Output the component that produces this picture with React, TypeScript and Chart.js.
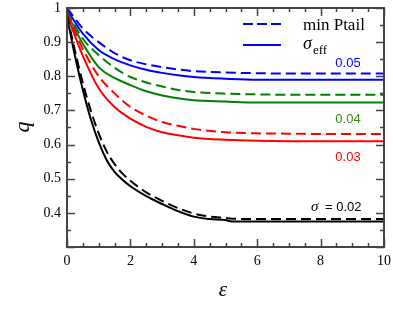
import React, { useEffect, useRef } from "react";
import { Chart, registerables } from "chart.js";

Chart.register(...registerables);

// ---- data ----
const epsFine = [0, 0.25, 0.5, 0.75, 1, 1.25, 1.5, 1.75, 2, 2.5, 3, 3.5, 4, 4.5, 5, 5.2, 6, 7, 8, 9, 10];
const blackSolid = [0.975, 0.86, 0.76, 0.675, 0.607, 0.555, 0.52, 0.497, 0.478, 0.449, 0.426, 0.405, 0.389, 0.382, 0.379, 0.375, 0.375, 0.375, 0.375, 0.375, 0.375];
const blackDashed = [0.98, 0.875, 0.78, 0.7, 0.633, 0.58, 0.543, 0.515, 0.494, 0.46, 0.435, 0.414, 0.398, 0.389, 0.385, 0.383, 0.382, 0.382, 0.382, 0.382, 0.382];

const epsCoarse = [0, 0.5, 1, 1.5, 2, 2.5, 3, 3.5, 4, 5, 6, 7, 8, 9, 10];
const redDashed = [0.985, 0.88, 0.8, 0.75, 0.71, 0.685, 0.666, 0.655, 0.646, 0.636, 0.633, 0.632, 0.631, 0.631, 0.631];
const redSolid = [0.98, 0.86, 0.765, 0.71, 0.676, 0.652, 0.636, 0.627, 0.62, 0.614, 0.611, 0.61, 0.61, 0.61, 0.61];
const greenDashed = [0.99, 0.91, 0.862, 0.825, 0.798, 0.782, 0.77, 0.76, 0.754, 0.749, 0.747, 0.746, 0.746, 0.746, 0.746];
const greenSolid = [0.985, 0.895, 0.827, 0.795, 0.774, 0.756, 0.744, 0.736, 0.73, 0.726, 0.723, 0.723, 0.723, 0.723, 0.723];
const blueDashed = [1.0, 0.94, 0.9, 0.868, 0.847, 0.835, 0.827, 0.82, 0.815, 0.811, 0.809, 0.808, 0.808, 0.808, 0.808];
const blueSolid = [0.995, 0.925, 0.877, 0.85, 0.832, 0.819, 0.81, 0.803, 0.798, 0.793, 0.79, 0.79, 0.79, 0.79, 0.79];

const xTicksMajor = [0, 2, 4, 6, 8, 10];
const sigmaLabels = ["0.05", "0.04", "0.03", "0.02"];

const BLUE = "#0000ff";
const GREEN = "#008000";
const RED = "#ff0000";
const BLACK = "#000000";
const SERIF = "'Liberation Serif', 'Times New Roman', serif";
const SANS = "'Liberation Sans', Arial, sans-serif";

function pts(xs: number[], ys: number[]) {
  return xs.map((x, i) => ({ x, y: ys[i] }));
}

function ds(xs: number[], ys: number[], color: string, dashed: boolean) {
  return {
    data: pts(xs, ys),
    borderColor: color,
    backgroundColor: color,
    borderWidth: 2,
    borderDash: dashed ? [10, 5] : [],
    pointRadius: 0,
    cubicInterpolationMode: "monotone" as const,
    fill: false,
  };
}

const framePlugin = {
  id: "frame",
  afterDraw(chart: any) {
    const ctx = chart.ctx as CanvasRenderingContext2D;
    const { left, right, top, bottom } = chart.chartArea;
    const xs = chart.scales.x;
    const ys = chart.scales.y;
    ctx.save();
    ctx.strokeStyle = "#444";
    ctx.lineWidth = 1.5;
    ctx.beginPath();
    for (let v = 0; v <= 10.001; v += 0.5) {
      const px = Math.round(xs.getPixelForValue(v)) + 0.5;
      const major = Math.abs(v / 2 - Math.round(v / 2)) < 1e-6;
      const len = major ? 8 : 4;
      ctx.moveTo(px, bottom);
      ctx.lineTo(px, bottom - len);
      ctx.moveTo(px, top);
      ctx.lineTo(px, top + len);
    }
    for (let v = 0.3; v <= 1.0001; v += 0.05) {
      const py = Math.round(ys.getPixelForValue(v)) + 0.5;
      const major = Math.abs(v * 10 - Math.round(v * 10)) < 1e-6;
      const len = major ? 8 : 4;
      ctx.moveTo(left, py);
      ctx.lineTo(left + len, py);
      ctx.moveTo(right, py);
      ctx.lineTo(right - len, py);
    }
    ctx.stroke();
    ctx.lineWidth = 2;
    ctx.strokeRect(left, top, right - left, bottom - top);

    // axis titles
    ctx.fillStyle = "#000";
    ctx.font = "italic 22px " + SERIF;
    ctx.textAlign = "center";
    ctx.textBaseline = "middle";
    ctx.save();
    ctx.translate(23, 127);
    ctx.rotate(-Math.PI / 2);
    ctx.fillText("q", 0, 0);
    ctx.restore();
    ctx.font = "italic 21px " + SERIF;
    ctx.fillText("\u03b5", 223, 290);

    // legend
    ctx.lineWidth = 2;
    ctx.strokeStyle = BLUE;
    ctx.setLineDash([10, 4]);
    ctx.beginPath();
    ctx.moveTo(243, 24);
    ctx.lineTo(281, 24);
    ctx.stroke();
    ctx.setLineDash([]);
    ctx.beginPath();
    ctx.moveTo(243, 45);
    ctx.lineTo(281, 45);
    ctx.stroke();
    ctx.textAlign = "left";
    ctx.textBaseline = "alphabetic";
    ctx.fillStyle = "#000";
    ctx.font = "17px " + SERIF;
    ctx.fillText("min Ptail", 303, 30);
    ctx.font = "italic 18px " + SERIF;
    ctx.fillText("\u03c3", 303, 49);
    const sw = ctx.measureText("\u03c3").width;
    ctx.font = "13px " + SERIF;
    ctx.fillText("eff", 303 + sw + 1, 54);

    // sigma annotations
    ctx.font = "13px " + SANS;
    ctx.textAlign = "center";
    ctx.textBaseline = "middle";
    ctx.fillStyle = BLUE;
    ctx.fillText(sigmaLabels[0], 348, 63);
    ctx.fillStyle = "#3a8a10";
    ctx.fillText(sigmaLabels[1], 348, 119);
    ctx.fillStyle = RED;
    ctx.fillText(sigmaLabels[2], 348, 157);
    ctx.fillStyle = BLACK;
    ctx.textAlign = "left";
    ctx.font = "italic 15px " + SERIF;
    ctx.fillText("\u03c3", 311, 207);
    ctx.font = "13px " + SANS;
    ctx.fillText("= " + sigmaLabels[3], 325, 207);
    ctx.restore();
  },
};

export default function App() {
  const ref = useRef<HTMLCanvasElement | null>(null);
  useEffect(() => {
    if (!ref.current) return;
    Chart.defaults.font.family = SERIF;
    const chart = new Chart(ref.current, {
      type: "line",
      data: {
        datasets: [
          ds(epsFine, blackDashed, BLACK, true),
          ds(epsFine, blackSolid, BLACK, false),
          ds(epsCoarse, redDashed, RED, true),
          ds(epsCoarse, redSolid, RED, false),
          ds(epsCoarse, greenDashed, GREEN, true),
          ds(epsCoarse, greenSolid, GREEN, false),
          ds(epsCoarse, blueDashed, BLUE, true),
          ds(epsCoarse, blueSolid, BLUE, false),
        ] as any,
      },
      options: {
        animation: false,
        responsive: false,
        maintainAspectRatio: false,
        layout: { padding: { top: 8, right: 9, left: 0, bottom: 0 } },
        plugins: { legend: { display: false }, tooltip: { enabled: false } },
        scales: {
          x: {
            type: "linear",
            min: 0,
            max: 10,
            afterBuildTicks: (scale: any) => {
              scale.ticks = xTicksMajor.map((v) => ({ value: v }));
            },
            afterFit: (scale: any) => {
              scale.height = 67;
              scale.paddingLeft = 0;
              scale.paddingRight = 0;
            },
            grid: { display: false, drawTicks: false },
            border: { display: false },
            ticks: {
              padding: 6,
              color: "#000",
              font: { family: SERIF, size: 14 },
              maxRotation: 0,
            },
          },
          y: {
            type: "linear",
            min: 0.3,
            max: 1,
            afterFit: (scale: any) => {
              scale.width = 67;
              scale.paddingTop = 0;
              scale.paddingBottom = 0;
            },
            grid: { display: false, drawTicks: false },
            border: { display: false },
            ticks: {
              stepSize: 0.1,
              padding: 6,
              color: "#000",
              font: { family: SERIF, size: 14 },
              callback: (v: any) => (v < 0.35 ? "" : String(Math.round(v * 10) / 10)),
            },
          },
        },
      },
      plugins: [framePlugin],
    });
    return () => chart.destroy();
  }, []);
  return (
    <div style={{ position: "absolute", left: 0, top: 0, width: 393, height: 314, background: "#fff" }}>
      <canvas ref={ref} width={393} height={314} style={{ width: 393, height: 314 }} />
    </div>
  );
}
